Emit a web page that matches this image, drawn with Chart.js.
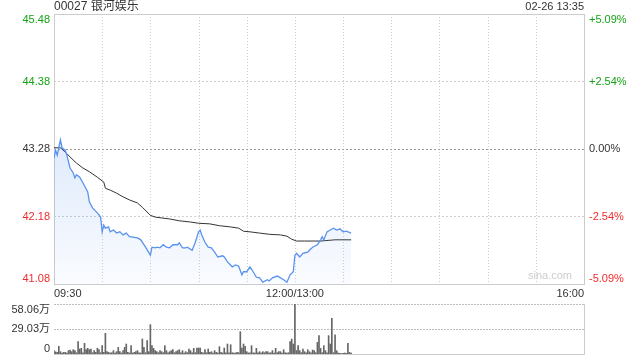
<!DOCTYPE html>
<html>
<head>
<meta charset="utf-8">
<script src="https://cdn.jsdelivr.net/npm/chart.js@4"></script>
<style>
  body { margin: 0; background: #fff; }
  #wrap { position: relative; width: 640px; height: 360px; }
  #wrap canvas { position: absolute; left: 0; top: 0; }
</style>
</head>
<body>
<div id="wrap">
  <canvas id="price" width="640" height="360"></canvas>
  <canvas id="vol" width="640" height="360"></canvas>
</div>
<script>
// minutes of trading time since 09:30 (12:00 and 13:00 share minute 150)
const priceMin = [0,1,2,4,5,7,8,10,12,13,14,16,18,21,22,24,27,29,30,31,32,34,35,37,39,41,43,45,47,52,54,57,60,61,63,64,66,68,70,72,74,77,78,80,82,83,86,88,90,91,92,94,96,98,100,102,105,106,108,111,113,115,117,118,120,122,124,126,128,130,133,134,136,139,141,143,145,147,149,150,151,153,155,158,159,161,164,166,167,168,170,172,174,176,178,180,182,185];
const priceVal = [43.13,43.26,43.18,43.43,43.30,43.26,43.18,42.97,42.89,42.81,42.86,42.82,42.73,42.58,42.42,42.32,42.24,42.17,41.93,42.04,41.99,42.01,41.93,41.96,41.91,41.93,41.88,41.91,41.85,41.83,41.80,41.68,41.55,41.68,41.67,41.68,41.67,41.72,41.68,41.67,41.72,41.72,41.75,41.67,41.67,41.68,41.63,41.76,41.93,41.96,41.88,41.76,41.68,41.67,41.60,41.52,41.54,41.52,41.44,41.36,41.39,41.37,41.23,41.28,41.28,41.36,41.28,41.19,41.18,41.11,41.15,41.13,41.18,41.21,41.18,41.15,41.11,41.23,41.28,41.55,41.58,41.52,41.58,41.60,41.63,41.68,41.72,41.80,41.85,41.80,41.93,41.96,41.99,41.96,41.98,41.93,41.94,41.91];

const avgMin = [0,4,7,10,14,18,22,27,31,32,35,39,43,47,52,55,60,63,66,72,78,85,90,97,103,110,115,118,122,128,134,141,145,148,151,156,166,175,185];
const avgVal = [43.30,43.30,43.23,43.15,43.05,42.97,42.91,42.82,42.74,42.64,42.61,42.56,42.50,42.45,42.40,42.33,42.20,42.17,42.16,42.14,42.11,42.09,42.07,42.06,42.03,42.01,41.99,41.94,41.93,41.91,41.89,41.88,41.86,41.81,41.78,41.78,41.78,41.80,41.80];

// volume per minute, in 万 shares (index = minute)
const volume = [
  3.9,2.5,1.9,8.9,2.7,1.2,1.9,1.9,1.2,3.9, 4.6,2.7,5.0,3.9,1.5,14.3,5.8,6.6,1.5,12.4,
  5.0,6.6,5.0,5.8,1.5,3.9,1.9,6.6,5.0,1.5, 9.7,1.9,24.0,2.7,1.9,1.2,1.5,3.9,1.2,2.7,
  7.7,2.7,1.2,3.9,7.7,11.6,1.9,1.2,9.7,1.2, 1.9,2.7,3.9,1.5,1.2,17.4,7.7,1.5,15.5,2.7,
  34.1,9.7,6.6,3.9,2.7,1.5,3.9,2.7,1.5,9.7, 3.9,1.5,2.7,3.9,5.0,1.5,2.7,3.9,5.0,1.5,
  3.9,1.2,2.7,1.5,5.8,3.9,1.5,6.6,1.5,7.0, 7.0,7.0,1.9,1.2,5.0,1.5,5.8,1.9,2.7,1.2,
  3.9,1.9,1.2,8.5,1.9,1.2,7.0,1.5,11.6,1.5, 10.8,1.5,1.2,1.2,1.9,1.5,25.9,7.0,11.6,8.9,
  2.7,1.2,1.5,9.7,1.5,1.2,6.6,1.5,2.7,1.2, 2.7,1.5,2.7,2.7,1.2,1.5,3.9,1.2,6.6,1.5,
  2.7,2.7,1.2,5.0,1.5,1.2,1.5,14.3,17.4,11.6, 58.06,4.0,9.7,3.9,1.5,5.8,2.7,1.5,5.0,2.7,
  1.5,4.6,3.9,1.5,13.5,21.3,6.6,1.5,9.7,3.9, 1.5,21.3,11.6,41.4,1.5,22.4,3.9,1.2,0.8,0.5,
  0.8,1.2,0.8,12.5,1.9,1.2
];

const prevClose = 43.28;
const priceTicks = [45.48, 44.38, 43.28, 42.18, 41.08];
const pctTicks = ['+5.09%', '+2.54%', '0.00%', '-2.54%', '-5.09%'];
const volTicks = [58.06, 29.03, 0];
const volLabels = ['58.06万', '29.03万', '0'];
const timeAt = [0, 150, 330];
const timeLabels = ['09:30', '12:00/13:00', '16:00'];
const gridMinutes = [30, 60, 90, 120, 150, 180, 210, 240, 270, 300];

const title = '00027 银河娱乐';
const stamp = '02-26 13:35';

const FONT = "'Liberation Sans', Arial, 'Noto Sans CJK SC', sans-serif";
const GREEN = '#16a216';
const RED = '#f02b2b';
const BLUE = '#5a93ef';

function px(v) { return Math.round(v) + 0.5; }

function dashed(ctx, x1, y1, x2, y2, color, dash) {
  ctx.save();
  ctx.strokeStyle = color;
  ctx.lineWidth = 1;
  ctx.setLineDash(dash);
  ctx.beginPath();
  ctx.moveTo(x1, y1);
  ctx.lineTo(x2, y2);
  ctx.stroke();
  ctx.restore();
}

function text(ctx, s, x, y, align, base, color, size) {
  ctx.save();
  ctx.font = (size || 11) + 'px ' + FONT;
  ctx.fillStyle = color;
  ctx.textAlign = align;
  ctx.textBaseline = base;
  ctx.fillText(s, x, y);
  ctx.restore();
}

const priceFrame = {
  id: 'priceFrame',
  beforeDatasetsDraw(chart) {
    const ctx = chart.ctx;
    const { left, right, top, bottom } = chart.chartArea;
    const xs = chart.scales.x, ys = chart.scales.y;

    gridMinutes.forEach(m => {
      const gx = px(xs.getPixelForValue(m));
      dashed(ctx, gx, top, gx, bottom, '#cfcfcf', [1, 2]);
    });
    priceTicks.slice(1, -1).forEach(v => {
      const gy = px(ys.getPixelForValue(v));
      dashed(ctx, left, gy, right, gy, v === prevClose ? '#9a9a9a' : '#cfcfcf', [2, 2]);
    });

    ctx.save();
    ctx.strokeStyle = '#cccccc';
    ctx.lineWidth = 1;
    ctx.strokeRect(px(left), px(top), Math.round(right - left), Math.round(bottom - top));
    ctx.restore();

    text(ctx, 'sina.com', right - 12, bottom - 3, 'right', 'bottom', '#cdcdcd', 11);
  },
  afterDraw(chart) {
    const ctx = chart.ctx;
    const { left, right, top, bottom } = chart.chartArea;
    const xs = chart.scales.x, ys = chart.scales.y;

    text(ctx, title, left, 7, 'left', 'middle', '#333', 12);
    text(ctx, stamp, right, 7, 'right', 'middle', '#333', 11);

    priceTicks.forEach((v, i) => {
      const gy = ys.getPixelForValue(v);
      const base = i === 0 ? 'top' : (i === priceTicks.length - 1 ? 'bottom' : 'middle');
      const col = v > prevClose ? GREEN : (v < prevClose ? RED : '#333');
      text(ctx, v.toFixed(2), left - 4, gy, 'right', base, col);
      text(ctx, pctTicks[i], right + 5, gy, 'left', base, col);
    });

    timeAt.forEach((m, i) => {
      const align = i === 0 ? 'left' : (i === timeAt.length - 1 ? 'right' : 'center');
      text(ctx, timeLabels[i], xs.getPixelForValue(m), bottom + 10, align, 'middle', '#333');
    });
  }
};

const volFrame = {
  id: 'volFrame',
  beforeDatasetsDraw(chart) {
    const ctx = chart.ctx;
    const { left, right, top, bottom } = chart.chartArea;
    const ys = chart.scales.y;
    volTicks.slice(0, -1).forEach(v => {
      const gy = px(ys.getPixelForValue(v));
      dashed(ctx, left, gy, right, gy, '#bdbdbd', [2, 1]);
    });
    ctx.save();
    ctx.strokeStyle = '#cccccc';
    ctx.lineWidth = 1;
    ctx.beginPath();
    ctx.moveTo(left, px(bottom));
    ctx.lineTo(px(right), px(bottom));
    ctx.lineTo(px(right), top);
    ctx.stroke();
    ctx.restore();
  },
  afterDraw(chart) {
    const ctx = chart.ctx;
    const { left } = chart.chartArea;
    const ys = chart.scales.y;
    volTicks.forEach((v, i) => {
      const base = i === 0 ? 'top' : (i === volTicks.length - 1 ? 'bottom' : 'middle');
      text(ctx, volLabels[i], left - 4, ys.getPixelForValue(v), 'right', base, '#333');
    });
  }
};

new Chart(document.getElementById('price'), {
  type: 'line',
  data: {
    datasets: [
      {
        label: 'price',
        data: priceMin.map((m, i) => ({ x: m, y: priceVal[i] })),
        borderColor: BLUE,
        borderWidth: 1.3,
        pointRadius: 0,
        tension: 0,
        fill: 'start',
        backgroundColor: (c) => {
          const a = c.chart.chartArea;
          if (!a) return 'rgba(90,147,239,0.1)';
          const g = c.chart.ctx.createLinearGradient(0, a.top + 120, 0, a.bottom);
          g.addColorStop(0, 'rgba(90,147,239,0.2)');
          g.addColorStop(1, 'rgba(90,147,239,0.03)');
          return g;
        }
      },
      {
        label: 'avg',
        data: avgMin.map((m, i) => ({ x: m, y: avgVal[i] })),
        borderColor: '#333',
        borderWidth: 1,
        pointRadius: 0,
        tension: 0,
        fill: false
      }
    ]
  },
  options: {
    responsive: false,
    animation: false,
    devicePixelRatio: 1,
    layout: { padding: { left: 54, right: 56, top: 14, bottom: 76 } },
    plugins: { legend: { display: false }, tooltip: { enabled: false } },
    scales: {
      x: { type: 'linear', min: 0, max: 330, display: false },
      y: { min: 41.08, max: 45.48, display: false }
    }
  },
  plugins: [priceFrame]
});

new Chart(document.getElementById('vol'), {
  type: 'bar',
  data: {
    datasets: [{
      label: 'volume',
      data: volume.map((v, m) => ({ x: m, y: v })),
      backgroundColor: '#666',
      barThickness: 1,
      borderWidth: 0
    }]
  },
  options: {
    responsive: false,
    animation: false,
    devicePixelRatio: 1,
    layout: { padding: { left: 54, right: 56, top: 304, bottom: 6 } },
    plugins: { legend: { display: false }, tooltip: { enabled: false } },
    scales: {
      x: { type: 'linear', min: 0, max: 330, display: false, offset: false },
      y: { min: 0, max: 58.06, display: false }
    }
  },
  plugins: [volFrame]
});
</script>
</body>
</html>
